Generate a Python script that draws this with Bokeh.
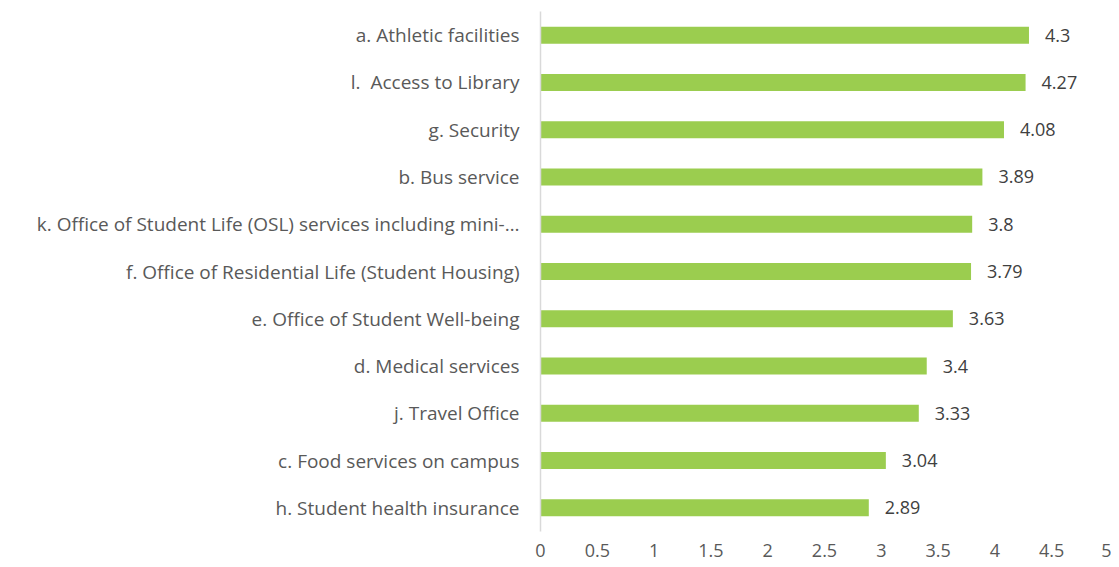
from bokeh.plotting import figure
from bokeh.models import ColumnDataSource, FactorRange, Range1d, LabelSet, FixedTicker
from bokeh.core.properties import value
from bokeh.embed import file_html
from bokeh.resources import INLINE

categories = [
    "a. Athletic facilities",
    "l.\u00a0 Access to Library",
    "g. Security",
    "b. Bus service",
    "k. Office of Student Life (OSL) services including mini-\u2026",
    "f. Office of Residential Life (Student Housing)",
    "e. Office of Student Well-being",
    "d. Medical services",
    "j. Travel Office",
    "c. Food services on campus",
    "h. Student health insurance",
]
values = [4.3, 4.27, 4.08, 3.89, 3.8, 3.79, 3.63, 3.4, 3.33, 3.04, 2.89]
value_labels = ["4.3", "4.27", "4.08", "3.89", "3.8", "3.79", "3.63", "3.4", "3.33", "3.04", "2.89"]
x_ticks = [0, 0.5, 1, 1.5, 2, 2.5, 3, 3.5, 4, 4.5, 5]

FONT = "Open Sans"

src = ColumnDataSource(dict(cat=categories, val=values, lab=value_labels))

p = figure(
    y_range=FactorRange(factors=list(reversed(categories))),
    x_range=Range1d(0, 5),
    frame_width=568, frame_height=520,
    min_border_left=540, min_border_top=11, min_border_bottom=36, min_border_right=3,
    output_backend="svg", toolbar_location=None,
)
p.hbar(y="cat", right="val", height=0.36, source=src, color="#9BCD4F", line_color=None)

labels = LabelSet(x="val", y="cat", text="lab", source=src, x_offset=16, y_offset=0,
                  text_baseline="middle", text_font=value(FONT), text_font_size="18px",
                  text_color="#404040")
p.add_layout(labels)

p.xgrid.grid_line_color = None
p.ygrid.grid_line_color = None
p.outline_line_color = None

p.xaxis.ticker = FixedTicker(ticks=x_ticks)
p.xaxis.axis_line_color = None
p.xaxis.major_tick_line_color = None
p.xaxis.major_tick_out = 0
p.xaxis.major_tick_in = 0
p.xaxis.minor_tick_line_color = None
p.xaxis.major_label_text_font = FONT
p.xaxis.major_label_text_font_size = "18px"
p.xaxis.major_label_text_color = "#595959"
p.xaxis.major_label_standoff = 12

p.yaxis.axis_line_color = "#D9D9D9"
p.yaxis.axis_line_width = 1.5
p.yaxis.major_tick_line_color = None
p.yaxis.major_tick_out = 0
p.yaxis.major_tick_in = 0
p.yaxis.minor_tick_line_color = None
p.yaxis.major_label_text_font = FONT
p.yaxis.major_label_text_font_size = "19px"
p.yaxis.major_label_text_color = "#595959"
p.yaxis.major_label_standoff = 21

open("out.html", "w").write(file_html(p, INLINE))
